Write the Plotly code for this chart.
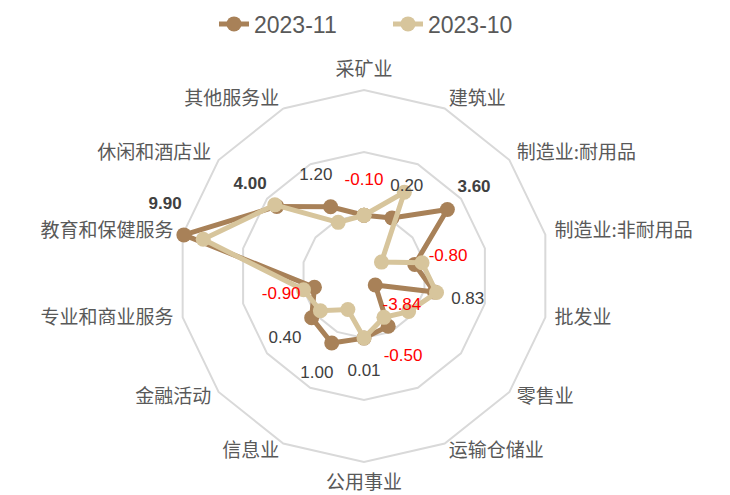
import plotly.graph_objects as go

# Industry categories, clockwise from the top
categories = [
    "采矿业", "建筑业", "制造业:耐用品", "制造业:非耐用品", "批发业",
    "零售业", "运输仓储业", "公用事业", "信息业", "金融活动",
    "专业和商业服务", "教育和保健服务", "休闲和酒店业", "其他服务业",
]

series_nov = [-0.10, 0.20, 3.60, -0.80, 0.83, -3.84, -0.50, 0.01, 1.00, 0.40, -0.90, 9.90, 4.00, 1.20]
series_oct = [-0.10, 2.50, -3.20, -0.20, 1.00, -0.40, -1.30, 0.00, -2.00, -0.50, 0.00, 8.30, 4.20, -0.20]

name_nov = "2023-11"
name_oct = "2023-10"

color_nov = "#A88158"
color_oct = "#D7C59C"

# value scale of the radar: -5 at the centre, grid rings at 0 / 5 / 10
v_min, v_max = -5, 10
grid_values = [0, 5, 10]
view_max = 12.6          # extra room outside the outer ring for the labels
value_label_gap = 2.75   # value labels sit this far outside their point
value_label_cap = 11.45
category_label_r = 10.75
category_label_r_bottom = 11.0


def to_r(v):
    # radial coordinate measured from the centre value
    return v - v_min


def closed(seq):
    return list(seq) + [seq[0]]


def value_label_style(v):
    if v < 0:
        return "#FF0000", f"{v:.2f}"
    if v >= 3:
        return "#404040", f"<b>{v:.2f}</b>"
    return "#404040", f"{v:.2f}"


fig = go.Figure()

for name, vals, col in [(name_nov, series_nov, color_nov), (name_oct, series_oct, color_oct)]:
    fig.add_trace(go.Scatterpolar(
        r=[to_r(v) for v in closed(vals)], theta=closed(categories), name=name,
        customdata=closed(vals),
        hovertemplate="%{theta}: %{customdata:.2f}<extra>" + name + "</extra>",
        mode="lines+markers",
        line=dict(color=col, width=5),
        marker=dict(color=col, size=15),
    ))

# value labels for 2023-11, pushed radially outward from each point
styles = [value_label_style(v) for v in series_nov]
label_r, label_pos = [], []
for v in series_nov:
    r = v + value_label_gap
    if r > value_label_cap:
        label_r.append(to_r(value_label_cap))
        label_pos.append("top center")
    else:
        label_r.append(to_r(r))
        label_pos.append("middle center")

fig.add_trace(go.Scatterpolar(
    r=label_r, theta=categories,
    mode="markers+text",
    marker=dict(size=26, opacity=0),
    text=[s[1] for s in styles],
    textposition=label_pos,
    textfont=dict(family="Liberation Sans, Arial", size=17, color=[s[0] for s in styles]),
    showlegend=False, hoverinfo="skip",
))

# category names around the outer ring
n = len(categories)
cat_pos, cat_r = [], []
for i in range(n):
    if i == 0:
        cat_pos.append("top center")
        cat_r.append(category_label_r)
    elif i == n // 2:
        cat_pos.append("bottom center")
        cat_r.append(category_label_r_bottom)
    elif i < n // 2:
        cat_pos.append("middle right")
        cat_r.append(category_label_r)
    else:
        cat_pos.append("middle left")
        cat_r.append(category_label_r)

fig.add_trace(go.Scatterpolar(
    r=[to_r(r) for r in cat_r], theta=categories,
    mode="text", text=categories, textposition=cat_pos,
    textfont=dict(family="Noto Sans CJK SC", size=19, color="#595959"),
    showlegend=False, hoverinfo="skip",
))

W, H = 730, 495
cx, cy = 364, 276
R_outer = 186                                 # pixel radius of the value-10 ring
R_view = R_outer * (view_max - v_min) / (v_max - v_min)

fig.update_layout(
    width=W, height=H,
    margin=dict(l=0, r=0, t=0, b=0),
    paper_bgcolor="white",
    plot_bgcolor="white",
    showlegend=True,
    legend=dict(
        orientation="h", x=0.5315, xanchor="center", y=0.995, yanchor="top",
        font=dict(family="Liberation Sans, Arial", size=23, color="#595959"),
        entrywidth=129,
    ),
    polar=dict(
        domain=dict(
            x=[(cx - R_view) / W, (cx + R_view) / W],
            y=[max(0, (H - cy - R_view) / H), (H - cy + R_view) / H],
        ),
        gridshape="linear",
        bgcolor="white",
        radialaxis=dict(
            range=[0, to_r(view_max)],
            tickvals=[to_r(g) for g in grid_values],
            showticklabels=False, ticks="",
            showline=False,
            gridcolor="#D9D9D9", gridwidth=1.5,
        ),
        angularaxis=dict(
            direction="clockwise", rotation=90,
            showgrid=False, showline=False,
            showticklabels=False, ticks="",
        ),
    ),
)

fig.write_html("out.html")
